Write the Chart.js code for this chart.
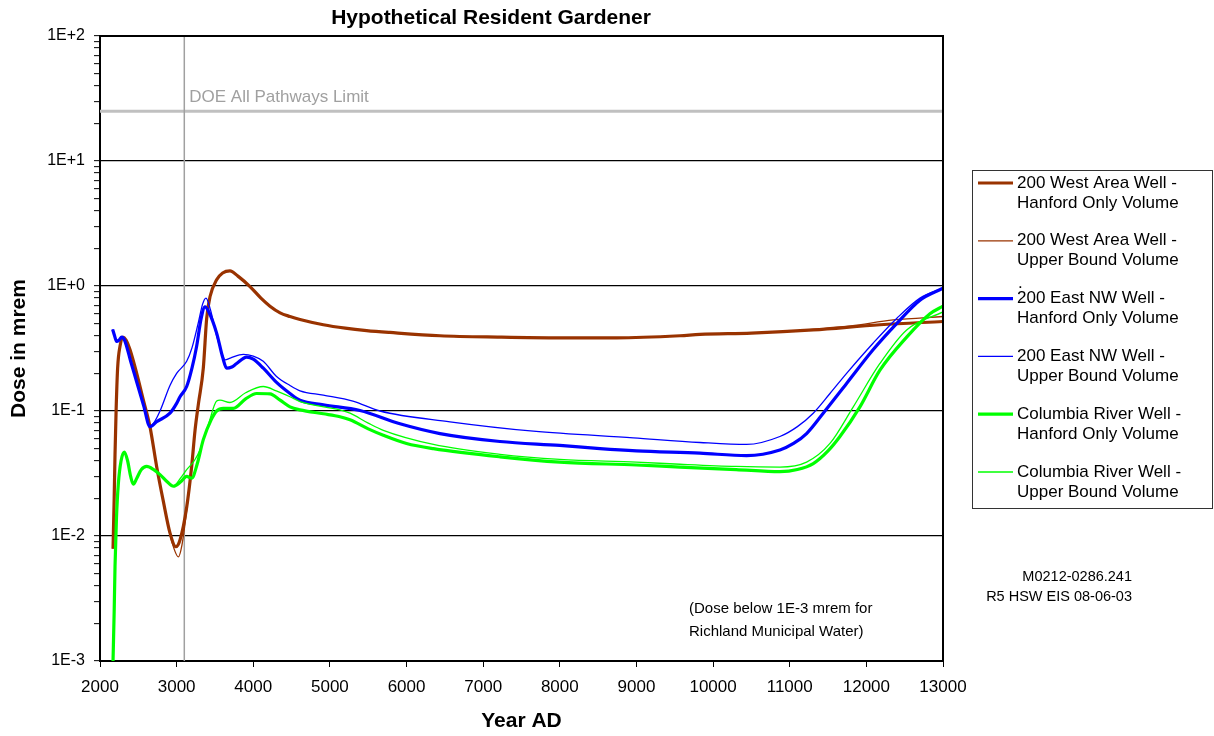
<!DOCTYPE html>
<html>
<head>
<meta charset="utf-8">
<title>Hypothetical Resident Gardener</title>
<script src="https://cdn.jsdelivr.net/npm/chart.js@4.4.1/dist/chart.umd.min.js"></script>
<style>
  html, body { margin: 0; padding: 0; background: #fff; }
  canvas { display: block; }
</style>
</head>
<body>
<canvas id="chart" width="1214" height="736"></canvas>
<script>
// Axis ticks
const xTickValues = [2000, 3000, 4000, 5000, 6000, 7000, 8000, 9000, 10000, 11000, 12000, 13000];
const yDecades = [0.001, 0.01, 0.1, 1, 10, 100];
const yTickLabels = ['1E-3', '1E-2', '1E-1', '1E+0', '1E+1', '1E+2'];

// Reference lines
const doeLimit = 25;      // mrem
const markerYear = 3100;

// 200 West Area Well
const westHanfordYears = [2170, 2185, 2196, 2210, 2230, 2261, 2300, 2340, 2391, 2479, 2566, 2652, 2739, 2826, 2913, 2990, 3044, 3131, 3196, 3240, 3285, 3348, 3392, 3435, 3522, 3600, 3696, 3800, 3957, 4100, 4218, 4350, 4479, 4610, 4914, 5200, 5479, 5784, 6436, 7219, 8000, 8741, 9568, 9829, 10500, 11305, 12177, 13000];
const westHanfordDose = [0.0079, 0.02, 0.045, 0.1, 0.22, 0.33, 0.39, 0.37, 0.31, 0.2, 0.122, 0.075, 0.036, 0.019, 0.0106, 0.0082, 0.0093, 0.017, 0.036, 0.07, 0.115, 0.22, 0.55, 0.82, 1.12, 1.27, 1.32, 1.2, 0.99, 0.8, 0.69, 0.61, 0.57, 0.54, 0.49, 0.46, 0.44, 0.425, 0.40, 0.39, 0.385, 0.385, 0.40, 0.41, 0.42, 0.445, 0.49, 0.52];
const westUpperYears = [2170, 2185, 2196, 2210, 2230, 2261, 2300, 2340, 2391, 2479, 2566, 2652, 2739, 2826, 2913, 2980, 3022, 3070, 3131, 3196, 3240, 3285, 3348, 3392, 3435, 3522, 3600, 3696, 3800, 3957, 4100, 4218, 4350, 4479, 4610, 4914, 5200, 5479, 5784, 6436, 7219, 8000, 8741, 9568, 9829, 10500, 11305, 11800, 12350, 13000];
const westUpperDose = [0.0079, 0.02, 0.045, 0.1, 0.22, 0.33, 0.39, 0.37, 0.31, 0.2, 0.122, 0.075, 0.036, 0.019, 0.0103, 0.0075, 0.0068, 0.0085, 0.016, 0.036, 0.07, 0.115, 0.22, 0.55, 0.82, 1.12, 1.27, 1.32, 1.2, 0.99, 0.8, 0.69, 0.61, 0.57, 0.54, 0.49, 0.46, 0.44, 0.425, 0.40, 0.39, 0.385, 0.385, 0.40, 0.41, 0.42, 0.45, 0.48, 0.535, 0.57];

// 200 East NW Well
const eastHanfordYears = [2165, 2190, 2216, 2250, 2283, 2320, 2400, 2480, 2570, 2652, 2739, 2913, 3000, 3044, 3131, 3200, 3261, 3320, 3370, 3420, 3522, 3600, 3653, 3720, 3783, 3914, 4000, 4131, 4300, 4479, 4610, 4914, 5392, 5914, 6436, 7219, 8000, 8524, 9000, 9829, 10437, 10872, 11050, 11220, 11437, 11742, 12090, 12395, 12700, 13000];
const eastHanfordDose = [0.45, 0.40, 0.36, 0.37, 0.39, 0.37, 0.25, 0.17, 0.11, 0.075, 0.082, 0.096, 0.115, 0.13, 0.157, 0.22, 0.33, 0.55, 0.68, 0.62, 0.42, 0.27, 0.22, 0.225, 0.24, 0.27, 0.26, 0.22, 0.17, 0.138, 0.122, 0.112, 0.101, 0.079, 0.066, 0.057, 0.053, 0.050, 0.048, 0.046, 0.044, 0.0488, 0.055, 0.066, 0.096, 0.166, 0.31, 0.50, 0.77, 0.96];
const eastUpperYears = [2165, 2190, 2216, 2250, 2283, 2320, 2400, 2480, 2570, 2652, 2700, 2783, 2913, 3000, 3131, 3200, 3280, 3340, 3383, 3440, 3522, 3600, 3631, 3700, 3870, 4000, 4130, 4300, 4479, 4610, 4914, 5300, 5653, 6567, 7654, 8958, 9829, 10437, 10872, 11100, 11307, 11525, 11742, 12090, 12395, 12700, 13000];
const eastUpperDose = [0.45, 0.40, 0.36, 0.37, 0.39, 0.37, 0.25, 0.17, 0.11, 0.076, 0.08, 0.10, 0.16, 0.2, 0.25, 0.32, 0.5, 0.72, 0.80, 0.65, 0.40, 0.28, 0.256, 0.265, 0.284, 0.275, 0.25, 0.19, 0.16, 0.145, 0.134, 0.12, 0.10, 0.082, 0.069, 0.061, 0.056, 0.054, 0.0625, 0.075, 0.096, 0.138, 0.2, 0.35, 0.55, 0.80, 0.96];

// Columbia River Well
const colHanfordYears = [2170, 2185, 2196, 2215, 2239, 2275, 2317, 2360, 2400, 2435, 2480, 2540, 2609, 2700, 2783, 2880, 2957, 3050, 3131, 3196, 3270, 3348, 3450, 3522, 3609, 3740, 3900, 4044, 4218, 4350, 4479, 4610, 4914, 5131, 5262, 5500, 5697, 6000, 6350, 7219, 8000, 9000, 9568, 10300, 10872, 11100, 11307, 11500, 11655, 11916, 12177, 12526, 12830, 13000];
const colHanfordDose = [0.001, 0.0025, 0.0057, 0.014, 0.026, 0.04, 0.047, 0.04, 0.03, 0.026, 0.029, 0.034, 0.036, 0.034, 0.031, 0.027, 0.025, 0.027, 0.030, 0.029, 0.038, 0.059, 0.085, 0.1, 0.105, 0.105, 0.125, 0.138, 0.137, 0.122, 0.108, 0.102, 0.095, 0.09, 0.085, 0.072, 0.064, 0.055, 0.050, 0.043, 0.039, 0.037, 0.0356, 0.034, 0.0327, 0.034, 0.038, 0.048, 0.0625, 0.108, 0.212, 0.39, 0.60, 0.69];
const colUpperYears = [2170, 2185, 2196, 2215, 2239, 2275, 2317, 2360, 2400, 2435, 2480, 2540, 2609, 2700, 2783, 2880, 2957, 3050, 3131, 3230, 3305, 3420, 3522, 3566, 3696, 3900, 4131, 4300, 4479, 4610, 5131, 5262, 5500, 5697, 6350, 7219, 8000, 9000, 9568, 10300, 10872, 11220, 11525, 11829, 12177, 12526, 13000];
const colUpperDose = [0.001, 0.0025, 0.0057, 0.014, 0.026, 0.04, 0.047, 0.04, 0.03, 0.026, 0.029, 0.034, 0.036, 0.034, 0.031, 0.027, 0.025, 0.029, 0.034, 0.04, 0.049, 0.08, 0.12, 0.122, 0.117, 0.14, 0.157, 0.145, 0.13, 0.119, 0.102, 0.096, 0.08, 0.07, 0.054, 0.045, 0.041, 0.039, 0.0375, 0.036, 0.0356, 0.039, 0.055, 0.108, 0.24, 0.445, 0.62];

// Legend text, two lines per series
const seriesNames = [
    ['200 West Area Well -', 'Hanford Only Volume'],
    ['200 West Area Well -', 'Upper Bound Volume'],
    ['200 East NW Well -', 'Hanford Only Volume'],
    ['200 East NW Well -', 'Upper Bound Volume'],
    ['Columbia River Well -', 'Hanford Only Volume'],
    ['Columbia River Well -', 'Upper Bound Volume'],
];

const FONT = "'Liberation Sans', Arial, sans-serif";

function toPoints(years, dose) {
    return years.map((x, i) => ({ x: x, y: dose[i] }));
}

function isDecade(v) {
    const l = Math.log10(v);
    return Math.abs(l - Math.round(l)) < 1e-6;
}

const series = [
    { years: westHanfordYears, dose: westHanfordDose, color: '#993300', width: 3.2 },
    { years: westUpperYears, dose: westUpperDose, color: '#993300', width: 1.3 },
    { years: eastHanfordYears, dose: eastHanfordDose, color: '#0000FF', width: 3.2 },
    { years: eastUpperYears, dose: eastUpperDose, color: '#0000FF', width: 1.3 },
    { years: colHanfordYears, dose: colHanfordDose, color: '#00FF00', width: 3.2 },
    { years: colUpperYears, dose: colUpperDose, color: '#00FF00', width: 1.3 },
];

const datasets = series.map((s, i) => ({
    label: seriesNames[i].join(' '),
    data: toPoints(s.years, s.dose),
    borderColor: s.color,
    borderWidth: s.width,
    pointRadius: 0,
    fill: false,
    cubicInterpolationMode: 'monotone',
    order: series.length - i,
}));

// Reference lines, frame, title, legend and notes
const decorPlugin = {
    id: 'decor',
    beforeDatasetsDraw(chart) {
        const { ctx, chartArea: a, scales } = chart;
        ctx.save();
        // DOE limit
        const yDoe = scales.y.getPixelForValue(doeLimit);
        ctx.strokeStyle = '#C0C0C0';
        ctx.lineWidth = 3;
        ctx.beginPath();
        ctx.moveTo(a.left, yDoe);
        ctx.lineTo(a.right, yDoe);
        ctx.stroke();
        ctx.fillStyle = '#A0A0A0';
        ctx.font = '17px ' + FONT;
        ctx.textBaseline = 'middle';
        ctx.fillText('DOE All Pathways Limit', scales.x.getPixelForValue(markerYear) + 5, yDoe - 14);
        // vertical marker
        const xm = scales.x.getPixelForValue(markerYear);
        ctx.strokeStyle = '#A0A0A0';
        ctx.lineWidth = 1.5;
        ctx.beginPath();
        ctx.moveTo(xm, a.top);
        ctx.lineTo(xm, a.bottom);
        ctx.stroke();
        ctx.restore();
    },
    afterDraw(chart) {
        const { ctx, chartArea: a } = chart;
        ctx.save();
        // frame
        ctx.strokeStyle = '#000';
        ctx.lineWidth = 2;
        ctx.beginPath();
        ctx.moveTo(a.left, a.top);
        ctx.lineTo(a.right, a.top);
        ctx.lineTo(a.right, a.bottom);
        ctx.stroke();

        // title
        ctx.fillStyle = '#000';
        ctx.font = 'bold 21px ' + FONT;
        ctx.textAlign = 'center';
        ctx.textBaseline = 'middle';
        ctx.fillText('Hypothetical Resident Gardener', 491, 18);

        // legend
        ctx.lineWidth = 1;
        ctx.strokeStyle = '#333';
        ctx.strokeRect(972.5, 170.5, 240, 338);
        ctx.textAlign = 'left';
        ctx.font = '17px ' + FONT;
        chart.data.datasets.forEach((ds, i) => {
            const y = 183 + i * 57.8;
            ctx.strokeStyle = ds.borderColor;
            ctx.lineWidth = ds.borderWidth;
            ctx.beginPath();
            ctx.moveTo(978, y);
            ctx.lineTo(1013, y);
            ctx.stroke();
            ctx.fillStyle = '#000';
            ctx.fillText(seriesNames[i][0], 1017, y);
            ctx.fillText(seriesNames[i][1], 1017, y + 20);
        });
        ctx.fillText('.', 1018, 283);

        // notes
        ctx.font = '15px ' + FONT;
        ctx.fillText('(Dose below 1E-3 mrem for', 689, 609);
        ctx.fillText('Richland Municipal Water)', 689, 632);
        ctx.textAlign = 'right';
        ctx.font = '14.5px ' + FONT;
        ctx.fillText('M0212-0286.241', 1132, 577);
        ctx.fillText('R5 HSW EIS 08-06-03', 1132, 597);
        ctx.restore();
    },
};

new Chart(document.getElementById('chart'), {
    type: 'line',
    data: { datasets: datasets },
    options: {
        responsive: false,
        animation: false,
        devicePixelRatio: 1,
        layout: { padding: { top: 36, right: 271, left: 0, bottom: 0 } },
        plugins: {
            legend: { display: false },
            title: { display: false },
            tooltip: { enabled: false },
        },
        scales: {
            x: {
                type: 'linear',
                min: 2000,
                max: 13000,
                afterFit: (s) => { s.height = 75; },
                afterBuildTicks: (s) => { s.ticks = xTickValues.map((v) => ({ value: v })); },
                ticks: {
                    autoSkip: false,
                    maxRotation: 0,
                    color: '#000',
                    padding: 10,
                    font: { family: FONT, size: 17 },
                    callback: (v) => String(v),
                },
                grid: { drawOnChartArea: false, tickLength: 6, tickColor: '#000', tickWidth: 1 },
                border: { color: '#000', width: 2 },
                title: {
                    display: true,
                    text: 'Year AD',
                    color: '#000',
                    font: { family: FONT, size: 21, weight: 'bold' },
                    padding: { top: 0, bottom: 2 },
                },
            },
            y: {
                type: 'logarithmic',
                min: 0.001,
                max: 100,
                afterFit: (s) => { s.width = 100; },
                afterBuildTicks: (s) => {
                    const ticks = [];
                    yDecades.forEach((d, i) => {
                        if (i === yDecades.length - 1) {
                            ticks.push({ value: d });
                            return;
                        }
                        for (let m = 1; m <= 9; m++) ticks.push({ value: d * m });
                    });
                    s.ticks = ticks;
                },
                ticks: {
                    autoSkip: false,
                    color: '#000',
                    padding: 9,
                    font: { family: FONT, size: 16 },
                    callback: (v) => {
                        const i = yDecades.findIndex((d) => Math.abs(d - v) / d < 1e-6);
                        return i >= 0 ? yTickLabels[i] : '';
                    },
                },
                grid: {
                    color: (c) => (c.tick && isDecade(c.tick.value) ? '#000' : 'rgba(0,0,0,0)'),
                    lineWidth: 1.3,
                    tickLength: 6,
                    tickColor: '#000',
                    tickWidth: 1,
                },
                border: { color: '#000', width: 2 },
                title: {
                    display: true,
                    text: 'Dose in mrem',
                    color: '#000',
                    font: { family: FONT, size: 21, weight: 'bold' },
                    padding: { top: 7, bottom: 0 },
                },
            },
        },
    },
    plugins: [decorPlugin],
});
</script>
</body>
</html>
